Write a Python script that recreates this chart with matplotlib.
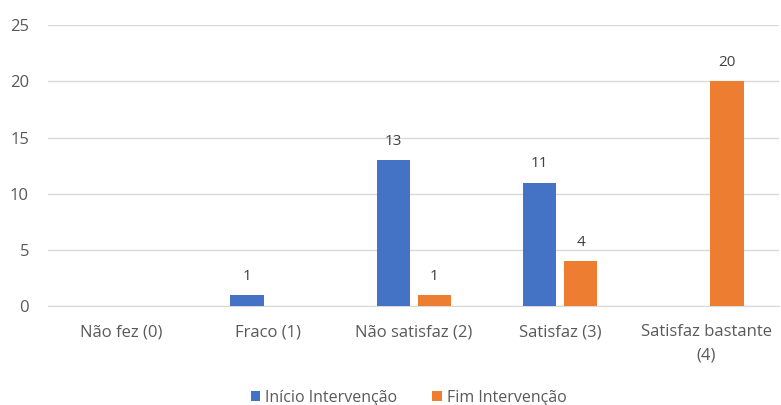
import numpy as np
from matplotlib import pyplot as plt

categorias = ['Não fez (0)', 'Fraco (1)', 'Não satisfaz (2)', 'Satisfaz (3)', 'Satisfaz bastante\n(4)']
inicio = [0, 1, 13, 11, 0]
fim = [0, 0, 1, 4, 20]

plt.rcParams['font.family'] = ['Open Sans', 'DejaVu Sans']
cinza = '#595959'

fig = plt.figure(figsize=[7.81, 4.05], dpi=100)
ax = fig.add_axes([0.062, 0.244, 0.936, 0.694])

x = np.arange(len(categorias))
w = 0.23
off = 0.14
b1 = ax.bar(x - off, inicio, w, color='#4472C4', label='Início Intervenção', zorder=3)
b2 = ax.bar(x + off, fim, w, color='#ED7D31', label='Fim Intervenção', zorder=3)

# rótulos só para valores não nulos
for bars, vals in [(b1, inicio), (b2, fim)]:
    for b, v in zip(bars, vals):
        if v > 0:
            ax.annotate(str(v), (b.get_x() + b.get_width() / 2, v), xytext=(0, 8),
                        textcoords='offset points', ha='center', va='bottom',
                        fontsize=11, color='#404040')

ax.set_xlim(-0.5, len(categorias) - 0.5)
ax.set_ylim(0, 25)
ax.set_yticks(range(0, 26, 5))
ax.set_xticks(x)
ax.set_xticklabels(categorias, linespacing=1.6)
ax.grid(axis='y', color='#d9d9d9', linewidth=1, zorder=0)
for s in ['top', 'right', 'left']:
    ax.spines[s].set_visible(False)
ax.spines['bottom'].set_color('#d9d9d9')
ax.tick_params(axis='both', length=0, colors=cinza, labelsize=12)
ax.tick_params(axis='y', pad=14)
ax.tick_params(axis='x', pad=13)

fig.legend(loc='center', bbox_to_anchor=(0.523, 0.018), ncol=2, frameon=False,
           fontsize=11.5, labelcolor=cinza, handlelength=0.6, handleheight=0.6,
           handletextpad=0.3, columnspacing=2.2)

fig.savefig('out.png', dpi=100)
